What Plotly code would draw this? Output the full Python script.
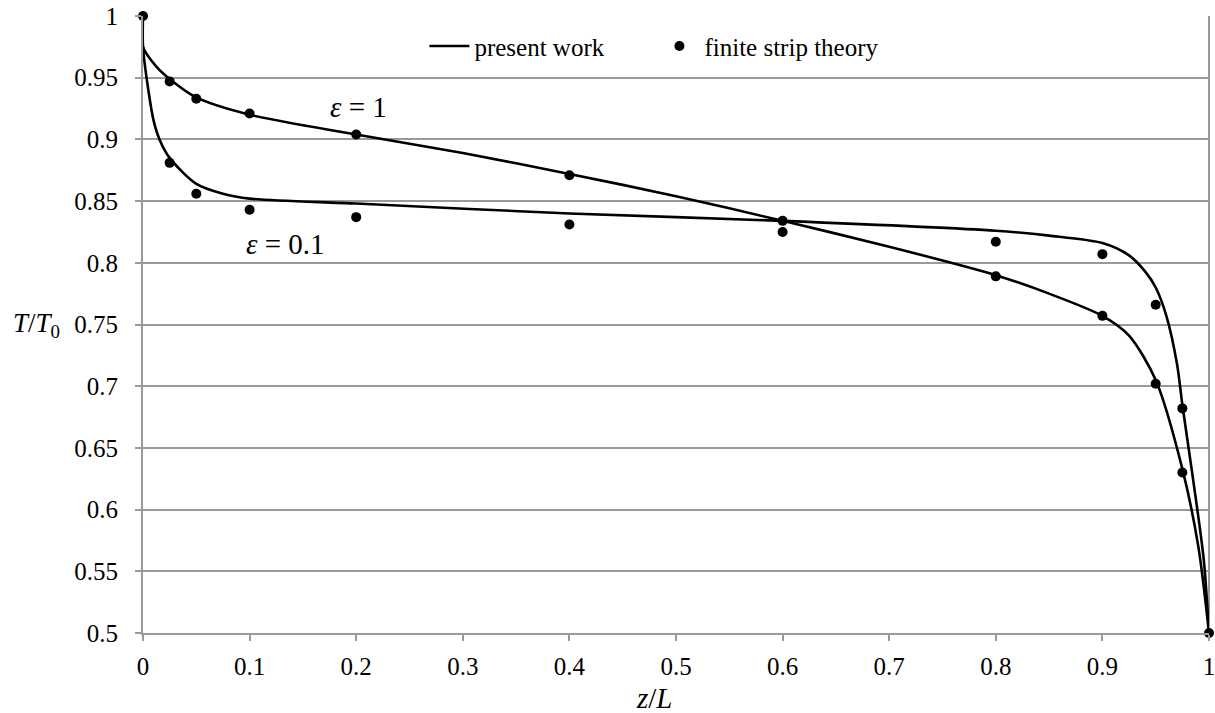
import plotly.graph_objects as go

# finite strip theory results (markers)
fst_z = [0, 0.025, 0.05, 0.1, 0.2, 0.4, 0.6, 0.8, 0.9, 0.95, 0.975,
         0.025, 0.05, 0.1, 0.2, 0.4, 0.6, 0.8, 0.9, 0.95, 0.975, 1.0]
fst_t = [1.0, 0.947, 0.933, 0.921, 0.904, 0.871, 0.834, 0.789, 0.757, 0.702, 0.630,
         0.881, 0.856, 0.843, 0.837, 0.831, 0.825, 0.817, 0.807, 0.766, 0.682, 0.5]

# present work, epsilon = 1
eps1_z = [0, 0, 0.0125, 0.025, 0.05, 0.1, 0.2, 0.3, 0.4, 0.5, 0.6, 0.7, 0.8,
          0.85, 0.9, 0.925, 0.95, 0.975, 0.99, 1.0]
eps1_t = [1.0, 0.975, 0.959, 0.949, 0.934, 0.920, 0.904, 0.889, 0.872, 0.854,
          0.834, 0.813, 0.790, 0.775, 0.757, 0.741, 0.705, 0.633, 0.570, 0.5]

# present work, epsilon = 0.1
eps01_z = [0, 0, 0.005, 0.01, 0.0155, 0.025, 0.05, 0.075, 0.1, 0.2, 0.4, 0.6,
           0.8, 0.85, 0.9, 0.925, 0.94, 0.95, 0.96, 0.97, 0.975, 0.985, 0.995, 1.0]
eps01_t = [1.0, 0.975, 0.940, 0.915, 0.900, 0.885, 0.864, 0.856, 0.852, 0.848,
           0.840, 0.834, 0.826, 0.822, 0.816, 0.806, 0.793, 0.780, 0.757, 0.718,
           0.685, 0.625, 0.560, 0.5]

x_ticks = [0, 0.1, 0.2, 0.3, 0.4, 0.5, 0.6, 0.7, 0.8, 0.9, 1]
y_ticks = [0.5, 0.55, 0.6, 0.65, 0.7, 0.75, 0.8, 0.85, 0.9, 0.95, 1]

FONT = "Liberation Serif"
GRID = "#9a9a9a"
TICKFONT = dict(family=FONT, size=25, color="black")

fig = go.Figure()
fig.add_trace(go.Scatter(
    x=eps1_z, y=eps1_t, mode="lines", name="present work",
    line=dict(color="black", width=2.6, shape="spline", smoothing=0.8),
    legendgroup="pw", cliponaxis=False))
fig.add_trace(go.Scatter(
    x=eps01_z, y=eps01_t, mode="lines", name="present work",
    line=dict(color="black", width=2.6, shape="spline", smoothing=0.8),
    legendgroup="pw", showlegend=False, cliponaxis=False))
fig.add_trace(go.Scatter(
    x=fst_z, y=fst_t, mode="markers", name="finite strip theory",
    marker=dict(color="black", size=10), cliponaxis=False))

fig.add_annotation(x=0.202, y=0.926, text="<i>ε</i> = 1", showarrow=False,
                   font=dict(family=FONT, size=29, color="black"))
fig.add_annotation(x=0.134, y=0.815, text="<i>ε</i> = 0.1", showarrow=False,
                   font=dict(family=FONT, size=29, color="black"))
fig.add_annotation(xref="paper", yref="y", x=0, y=0.75, xanchor="right",
                   xshift=-81, text="<i>T</i>/<i>T</i><sub>0</sub>", showarrow=False,
                   font=dict(family=FONT, size=27, color="black"))
fig.add_annotation(xref="paper", yref="paper", x=0.48, y=0, yanchor="middle",
                   yshift=-65, text="<i>z</i>/<i>L</i>", showarrow=False,
                   font=dict(family=FONT, size=29, color="black"))

# right-hand border of the plot area
fig.add_shape(type="line", xref="paper", yref="paper", x0=1, x1=1, y0=0, y1=1,
              line=dict(color=GRID, width=2), layer="below")

fig.update_layout(
    template="none",
    width=1215, height=713,
    margin=dict(l=143, r=6, t=16, b=80),
    paper_bgcolor="white", plot_bgcolor="white",
    font=dict(family=FONT, size=24, color="black"),
    showlegend=True,
    legend=dict(orientation="h", x=0.264, y=0.951, xanchor="left", yanchor="middle",
                bgcolor="white", font=dict(family=FONT, size=25, color="black"),
                entrywidth=175, itemwidth=40),
    xaxis=dict(range=[0, 1], tickvals=x_ticks, ticktext=[f"{v:g}" for v in x_ticks],
               tickfont=TICKFONT, ticklabelstandoff=4, ticklabeloverflow="allow",
               showgrid=False, zeroline=False, showline=True, linecolor=GRID,
               linewidth=2, ticks="outside", ticklen=6, tickcolor=GRID, tickwidth=2),
    yaxis=dict(range=[0.5, 1], tickvals=y_ticks, ticktext=[f"{v:g}" for v in y_ticks],
               tickfont=TICKFONT, ticklabelstandoff=12, ticklabeloverflow="allow",
               showgrid=True, gridcolor=GRID, gridwidth=2, zeroline=False,
               showline=True, linecolor=GRID, linewidth=2, ticks="outside",
               ticklen=6, tickcolor=GRID, tickwidth=2),
)

fig.write_html("out.html")
